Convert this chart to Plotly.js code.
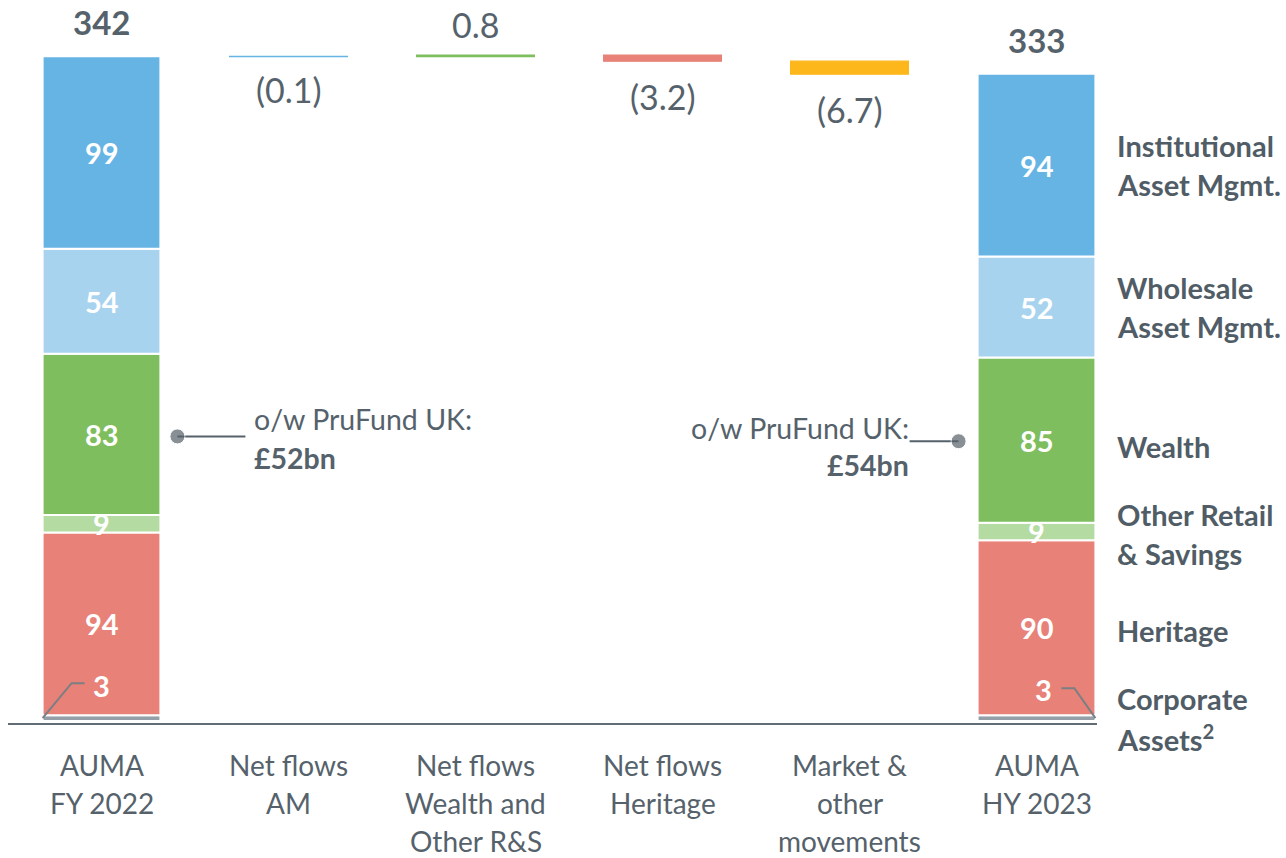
<!DOCTYPE html>
<html>
<head>
<meta charset="utf-8">
<script src="https://cdn.plot.ly/plotly-3.0.1.min.js"></script>
<style>html,body{margin:0;padding:0;background:#fff;}#chart{width:1286px;height:858px;}</style>
</head>
<body>
<div id="chart"></div>
<script>
// ---------- DATA ----------
const categories = [["AUMA","FY 2022"],["Net flows","AM"],["Net flows","Wealth and","Other R&S"],["Net flows","Heritage"],["Market &","other","movements"],["AUMA","HY 2023"]];
const segmentNames = ["Corporate Assets","Heritage","Other Retail & Savings","Wealth","Wholesale Asset Mgmt.","Institutional Asset Mgmt."];
const segmentLabelLines = [["Corporate","Assets<sup>2</sup>"],["Heritage"],["Other Retail","& Savings"],["Wealth"],["Wholesale","Asset Mgmt."],["Institutional","Asset Mgmt."]];
const fy2022 = [3, 94, 9, 83, 54, 99];
const hy2023 = [3, 90, 9, 85, 52, 94];
const totals = [342, 333];
const movementLabels = ["(0.1)", "0.8", "(3.2)", "(6.7)"];
const movements = [-0.1, 0.8, -3.2, -6.7];
const pruFund = ["£52bn", "£54bn"];

// ---------- STYLE ----------
const segColors = ["#959fa7","#e88177","#b4dba1","#7fbe5e","#a8d3ef","#66b4e4"];
const moveColors = ["#66b4e4","#7fbe5e","#e88177","#fdb71b"];
const grey = "#56626b";
const FONT = "Lato, 'Open Sans', sans-serif";
const W = 1286, H = 858;
const mL = 8, mR = 189, mT = 0, mB = 135;
const plotW = W - mL - mR, plotH = H - mT - mB;
const pxPerX = 187;
const xRange = [-0.5, -0.5 + plotW / pxPerX];
const yRange = [-1, 371];
const pxPerY = plotH / (yRange[1] - yRange[0]);
const barW = 0.63;
const halfPx = barW * pxPerX / 2;

const traces = [];
const annotations = [];
const shapes = [];

// stacked columns
const cum0 = [], cum5 = [];
let a = 0, b = 0;
for (let i = 0; i < segmentNames.length; i++) {
  cum0.push(a); cum5.push(b);
  a += fy2022[i]; b += hy2023[i];
}
for (let i = 0; i < segmentNames.length; i++) {
  traces.push({
    type: "bar", name: segmentNames[i], x: [0, 5], y: [fy2022[i], hy2023[i]],
    base: [cum0[i], cum5[i]], width: barW,
    marker: {color: segColors[i], line: {color: "#ffffff", width: 2}},
    hoverinfo: "name+y", showlegend: false
  });
}

// floating movements
let level = totals[0];
const moveBases = [];
for (let k = 0; k < movements.length; k++) {
  const base = movements[k] < 0 ? level + movements[k] : level;
  moveBases.push({lo: base, hi: base + Math.abs(movements[k])});
  traces.push({
    type: "bar", x: [k + 1], y: [Math.abs(movements[k])], base: [base], width: barW,
    marker: {color: moveColors[k], line: {color: moveColors[k], width: 1.2}},
    hoverinfo: "y", showlegend: false
  });
  level += movements[k];
}

// segment value labels
const segVals = [fy2022, hy2023];
const segCums = [cum0, cum5];
[0, 5].forEach((xi, j) => {
  for (let i = 0; i < segmentNames.length; i++) {
    const mid = segCums[j][i] + segVals[j][i] / 2;
    const isCorp = i === 0;
    annotations.push({
      x: xi, y: mid, xref: "x", yref: "y", text: "<b>" + segVals[j][i] + "</b>", showarrow: false,
      font: {family: FONT, size: 29, color: "#ffffff"},
      yshift: isCorp ? (j === 0 ? 33 : 29) : 0, xshift: isCorp && j === 1 ? 7 : 0
    });
  }
  // totals
  annotations.push({
    x: xi, y: totals[j], xref: "x", yref: "y", text: "<b>" + totals[j] + "</b>", showarrow: false,
    font: {family: FONT, size: 33, color: grey}, yanchor: "middle", yshift: 34
  });
});

// movement labels
for (let k = 0; k < movements.length; k++) {
  const up = movements[k] > 0;
  annotations.push({
    x: k + 1, y: up ? moveBases[k].hi : moveBases[k].lo, xref: "x", yref: "y",
    text: movementLabels[k], showarrow: false,
    font: {family: FONT, size: 34, color: grey}, yanchor: "middle", yshift: up ? 31 : (k === 0 ? -33 : -35)
  });
}

// corporate leader lines
const dx = p => p / pxPerX, dy = p => p / pxPerY;
const corpMid0 = fy2022[0] / 2, corpMid5 = hy2023[0] / 2;
shapes.push({type: "path", xref: "x", yref: "y",
  path: `M ${0 - dx(halfPx)},${corpMid0} L ${0 - dx(halfPx) + dx(29)},${corpMid0 + dy(35)} L ${0 - dx(halfPx) + dx(42)},${corpMid0 + dy(35)}`,
  line: {color: "#7a7f83", width: 2}});
shapes.push({type: "path", xref: "x", yref: "y",
  path: `M ${5 + dx(halfPx)},${corpMid5} L ${5 + dx(halfPx) - dx(21)},${corpMid5 + dy(30)} L ${5 + dx(halfPx) - dx(34)},${corpMid5 + dy(30)}`,
  line: {color: "#7a7f83", width: 2}});

// PruFund callouts
const wMid0 = cum0[3] + fy2022[3] / 2;
const wMid5 = cum5[3] + hy2023[3] / 2;
traces.push({type: "scatter", mode: "lines+markers", hoverinfo: "skip", showlegend: false,
  x: [0 + dx(halfPx + 17), 0 + dx(halfPx + 85)], y: [wMid0 - dy(2), wMid0 - dy(2)],
  line: {color: grey, width: 2}, marker: {color: grey, size: [15, 0]}});
traces.push({type: "scatter", mode: "lines+markers", hoverinfo: "skip", showlegend: false,
  x: [5 - dx(halfPx + 19), 5 - dx(halfPx + 68)], y: [wMid5 - dy(1), wMid5 - dy(1)],
  line: {color: grey, width: 2}, marker: {color: grey, size: [15, 0]}});
annotations.push({x: 0 + dx(halfPx + 92), y: wMid0, xref: "x", yref: "y", xanchor: "left", showarrow: false,
  text: "o/w PruFund UK:", font: {family: FONT, size: 28.5, color: grey}, yshift: 15});
annotations.push({x: 0 + dx(halfPx + 92), y: wMid0, xref: "x", yref: "y", xanchor: "left", showarrow: false,
  text: "<b>" + pruFund[0] + "</b>", font: {family: FONT, size: 28.5, color: grey}, yshift: -24});
annotations.push({x: 5 - dx(halfPx + 67), y: wMid5, xref: "x", yref: "y", xanchor: "right", showarrow: false,
  text: "o/w PruFund UK:", font: {family: FONT, size: 28.5, color: grey}, yshift: 12});
annotations.push({x: 5 - dx(halfPx + 67), y: wMid5, xref: "x", yref: "y", xanchor: "right", showarrow: false,
  text: "<b>" + pruFund[1] + "</b>", font: {family: FONT, size: 28.5, color: grey}, yshift: -25});

// right-side segment names (aligned to HY 2023 column)
for (let i = 0; i < segmentNames.length; i++) {
  const mid = cum5[i] + hy2023[i] / 2;
  const lines = segmentLabelLines[i];
  const extra = i === 3 ? -6 : (i === 1 ? -3 : (i === 2 ? -2 : 0));
  lines.forEach((t, li) => {
    const off = (li - (lines.length - 1) / 2) * 39;
    annotations.push({x: 5, y: mid, xref: "x", yref: "y", xanchor: "left", showarrow: false,
      text: "<b>" + t + "</b>", font: {family: FONT, size: 29, color: "#515d66"},
      xshift: halfPx + 20, yshift: -off + extra});
  });
}

// category labels
categories.forEach((lines, xi) => {
  lines.forEach((t, li) => {
    annotations.push({x: xi, y: 0, xref: "x", yref: "paper", showarrow: false, yanchor: "middle",
      text: t, font: {family: FONT, size: 28, color: grey}, yshift: -(42 + 38 * li)});
  });
});

const layout = {
  width: W, height: H,
  margin: {l: mL, r: mR, t: mT, b: mB, pad: 0},
  paper_bgcolor: "#ffffff", plot_bgcolor: "#ffffff",
  barmode: "overlay", bargap: 0,
  xaxis: {range: xRange, showgrid: false, zeroline: false, showticklabels: false, ticks: "",
    showline: true, linecolor: "#616c74", linewidth: 2, fixedrange: true},
  yaxis: {range: yRange, showgrid: false, zeroline: false, showticklabels: false, ticks: "", showline: false, fixedrange: true},
  annotations: annotations, shapes: shapes, showlegend: false
};
Plotly.newPlot("chart", traces, layout, {displayModeBar: false, staticPlot: true});
</script>
</body>
</html>
